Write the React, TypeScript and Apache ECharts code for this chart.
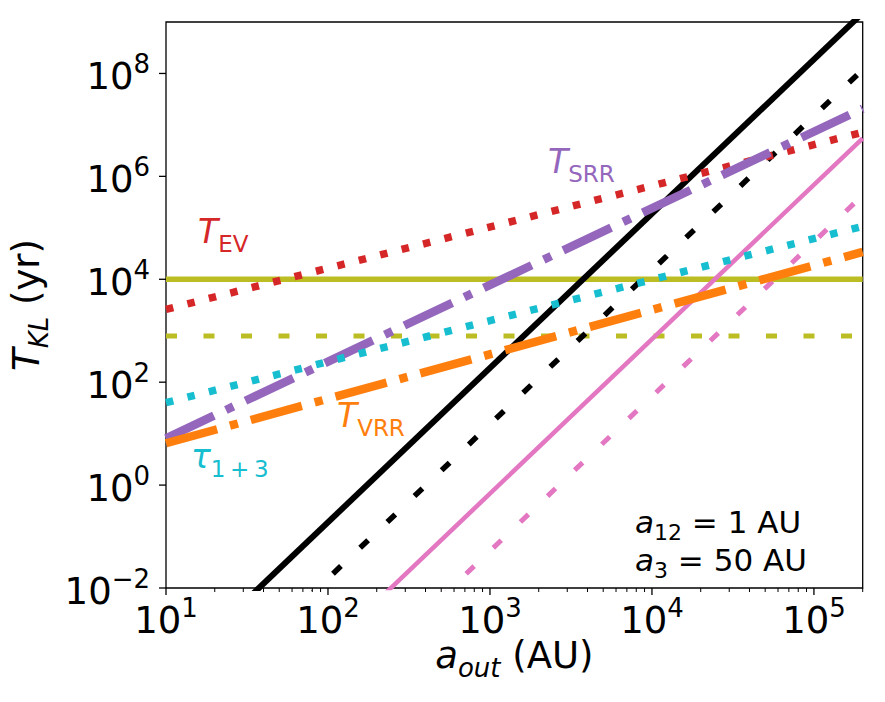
import React, { useEffect, useRef } from 'react';
import * as echarts from 'echarts';

const FONT = 'DejaVu Sans';

// axis ranges
const X_RANGE = [10, 200000];
const Y_RANGE = [0.01, 1e9];

// line end points (x at both ends of the axis)
const xEnds = [10, 200000];
const blackSolid = [1.9e-4, 1.5e9];
const blackDotted = [1.55e-5, 1.19e8];
const pinkSolid = [6.8e-7, 5.5e6];
const pinkDotted = [5.1e-8, 4.3e5];
const tEV = [2.6e3, 7.2e6];
const tau13 = [40, 1.07e5];
const tSRR = [8.1, 2.08e7];
const tVRR = [6.5, 3.4e4];
const oliveSolid = [1e4, 1e4];
const oliveDashed = [790, 790];

// ticks
const xMajorTicks = [10, 100, 1000, 10000, 100000];
const xTickExps = ['1', '2', '3', '4', '5'];
const xMinorTicks = [
  20, 30, 40, 50, 60, 70, 80, 90,
  200, 300, 400, 500, 600, 700, 800, 900,
  2000, 3000, 4000, 5000, 6000, 7000, 8000, 9000,
  20000, 30000, 40000, 50000, 60000, 70000, 80000, 90000,
  200000,
];
const yMajorTicks = [1e-2, 1, 1e2, 1e4, 1e6, 1e8];
const yTickExps = ['\u22122', '0', '2', '4', '6', '8'];

const tickRich = {
  b: { fontFamily: FONT, fontSize: 37, lineHeight: 44, verticalAlign: 'bottom', fill: '#000', color: '#000' },
  s: { fontFamily: FONT, fontSize: 26, lineHeight: 36, verticalAlign: 'top', fill: '#000', color: '#000' },
};

const mathRich = (F: number, color: string, subItalic: boolean) => {
  const H = Math.round(F * 1.2);
  const f = Math.round(F * 0.7);
  const Ls = Math.round(F * 0.592);
  return {
    i: { fontFamily: FONT, fontStyle: 'italic', fontSize: F, lineHeight: H, verticalAlign: 'top', fill: color, color },
    n: { fontFamily: FONT, fontStyle: 'normal', fontSize: F, lineHeight: H, verticalAlign: 'top', fill: color, color },
    sub: { fontFamily: FONT, fontStyle: subItalic ? 'italic' : 'normal', fontSize: f, lineHeight: Ls, verticalAlign: 'bottom', fill: color, color },
  };
};

const pts = (ys: number[]) => xEnds.map((x, i) => [x, ys[i]]);

const lineSeries = (ys: number[], color: string, width: number, type: any, dashOffset = 0, z = 2) => ({
  type: 'line',
  data: pts(ys),
  symbol: 'none',
  silent: true,
  clip: true,
  z,
  lineStyle: { color, width, type, dashOffset, cap: 'butt' },
});

const C = {
  red: '#d62728',
  purple: '#9467bd',
  cyan: '#17becf',
  orange: '#ff7f0e',
  olive: '#bcbd22',
  pink: '#e377c2',
  black: '#000000',
};

const dotted = [7.5, 14.6];
const dashDot = [53, 13.3, 8.3, 13.3];
const shortDash = [11, 26.5];

const annot = (x: number, y: number, text: string, F: number, color: string, subItalic = false) => ({
  type: 'text',
  x,
  y,
  silent: true,
  style: {
    text,
    rich: mathRich(F, color, subItalic),
    fill: color,
    align: 'left',
    verticalAlign: 'middle',
    fontFamily: FONT,
    fontSize: F,
  },
});

export default function App() {
  const ref = useRef<HTMLDivElement>(null);
  useEffect(() => {
    const chart = echarts.init(ref.current!, null, { renderer: 'svg' });
    const option: any = {
      animation: false,
      backgroundColor: '#ffffff',
      grid: {
        left: 165,
        top: 22,
        right: 22.3,
        bottom: 114,
        show: true,
        borderColor: '#000',
        borderWidth: 1.3,
        backgroundColor: 'transparent',
      },
      xAxis: {
        type: 'log',
        logBase: 10,
        min: X_RANGE[0],
        max: X_RANGE[1],
        axisLine: { show: false },
        axisTick: { show: false },
        axisLabel: { show: false },
        splitLine: { show: false },
        minorTick: { show: false },
        name: '{i|a}{sub|out}{n| (AU)}',
        nameLocation: 'middle',
        nameGap: 49,
        nameTextStyle: { rich: mathRich(37, '#000', true) },
      },
      yAxis: {
        type: 'log',
        logBase: 10,
        min: Y_RANGE[0],
        max: Y_RANGE[1],
        axisLine: { show: false },
        axisTick: { show: false },
        axisLabel: { show: false },
        splitLine: { show: false },
        minorTick: { show: false },
        name: '{i|T}{sub|KL}{n| (yr)}',
        nameLocation: 'middle',
        nameRotate: 90,
        nameGap: 114,
        nameTextStyle: { rich: mathRich(37, '#000', true) },
      },
      series: [
        lineSeries(oliveSolid, C.olive, 5.5, 'solid', 0, 1),
        lineSeries(oliveDashed, C.olive, 5, shortDash, 0, 1),
        lineSeries(blackSolid, C.black, 6, 'solid', 0, 2),
        lineSeries(blackDotted, C.black, 5.5, shortDash, 31.5, 2),
        lineSeries(pinkSolid, C.pink, 4.5, 'solid', 0, 2),
        lineSeries(pinkDotted, C.pink, 5, shortDash, 35.2, 2),
        lineSeries(tEV, C.red, 7.5, dotted, 0, 3),
        lineSeries(tSRR, C.purple, 8.5, dashDot, 0, 3),
        lineSeries(tau13, C.cyan, 7.5, dotted, 0, 3),
        lineSeries(tVRR, C.orange, 8.5, dashDot, 0, 3),
        {
          type: 'custom',
          silent: true,
          clip: false,
          z: 10,
          data: xMajorTicks.map((v) => [v, Y_RANGE[0]]),
          renderItem: (params: any, api: any) => {
            const p = api.coord([api.value(0), api.value(1)]);
            return {
              type: 'group',
              children: [
                { type: 'line', shape: { x1: p[0], y1: p[1], x2: p[0], y2: p[1] + 7 }, style: { stroke: '#000', lineWidth: 1.3 } },
                {
                  type: 'text',
                  x: p[0],
                  y: p[1] + 6.5,
                  style: {
                    text: `{b|10}{s|${xTickExps[params.dataIndex]}}`,
                    rich: tickRich,
                    align: 'center',
                    verticalAlign: 'top',
                    fill: '#000',
                    fontFamily: FONT,
                    fontSize: 37,
                  },
                },
              ],
            };
          },
        },
        {
          type: 'custom',
          silent: true,
          clip: false,
          z: 10,
          data: xMinorTicks.map((v) => [v, Y_RANGE[0]]),
          renderItem: (params: any, api: any) => {
            const p = api.coord([api.value(0), api.value(1)]);
            return { type: 'line', shape: { x1: p[0], y1: p[1], x2: p[0], y2: p[1] + 4 }, style: { stroke: '#000', lineWidth: 1 } };
          },
        },
        {
          type: 'custom',
          silent: true,
          clip: false,
          z: 10,
          data: yMajorTicks.map((v) => [X_RANGE[0], v]),
          renderItem: (params: any, api: any) => {
            const p = api.coord([api.value(0), api.value(1)]);
            return {
              type: 'group',
              children: [
                { type: 'line', shape: { x1: p[0] - 7, y1: p[1], x2: p[0], y2: p[1] }, style: { stroke: '#000', lineWidth: 1.3 } },
                {
                  type: 'text',
                  x: p[0] - 16,
                  y: p[1],
                  style: {
                    text: `{b|10}{s|${yTickExps[params.dataIndex]}}`,
                    rich: tickRich,
                    align: 'right',
                    verticalAlign: 'middle',
                    fill: '#000',
                    fontFamily: FONT,
                    fontSize: 37,
                  },
                },
              ],
            };
          },
        },
      ],
      graphic: [
        annot(198, 235, '{i|T}{sub|EV}', 33, C.red),
        annot(548, 165, '{i|T}{sub|SRR}', 33, C.purple),
        annot(337, 419, '{i|T}{sub|VRR}', 33, C.orange),
        annot(191, 460, '{i|\u03c4}{sub|1\u2009+\u20093}', 33, C.cyan),
        annot(635, 525, '{i|a}{sub|12}{n| = 1 AU}', 31, '#000'),
        annot(635, 563, '{i|a}{sub|3}{n| = 50 AU}', 31, '#000'),
      ],
    };
    chart.setOption(option);
    return () => chart.dispose();
  }, []);
  return <div ref={ref} style={{ width: 885, height: 702, position: 'absolute', left: 0, top: 0 }} />;
}
